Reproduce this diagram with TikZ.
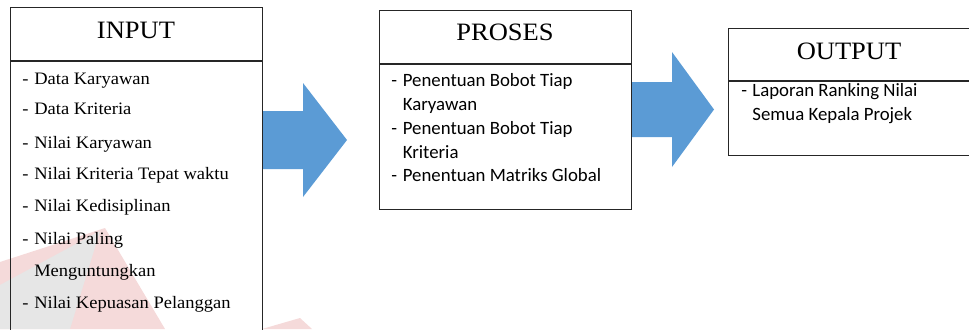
\documentclass[tikz,border=0pt]{standalone}
\usepackage{fontspec}
\setmainfont[FakeStretch=1.06]{Liberation Serif}
\newfontfamily\bodysans{Carlito}
\usetikzlibrary{calc}

\definecolor{arrowblue}{HTML}{5B9BD5}
\definecolor{markpink}{HTML}{F5DADA}
\definecolor{markgrey}{HTML}{E6E6E6}

% hanging-dash list entries
\newcommand\dashitem[2]{\makebox[#1][l]{-}#2}

\tikzset{
  panel/.style={draw=black!85, line width=0.9pt, fill=none, inner sep=0pt, anchor=north west},
  heading/.style={anchor=base, inner sep=0pt, font=\fontsize{18.75pt}{20pt}\selectfont},
  seriftxt/.style={anchor=base west, inner sep=0pt, font=\fontsize{13.1pt}{15pt}\selectfont},
  sanstxt/.style={anchor=base west, inner sep=0pt, font=\bodysans\fontsize{14.1pt}{16pt}\selectfont},
  blockarrow/.style={fill=arrowblue, draw=none}
}

\begin{document}
\begin{tikzpicture}[x=0.75pt, y=-0.75pt]
\useasboundingbox (0,0) rectangle (969,329);

% faint logo in the background
\fill[markpink] (105,228) -- (0,262) -- (0,329) -- (165,329) -- cycle;
\fill[markgrey] (100,231) -- (0,285) -- (0,329) -- (70,329) -- cycle;
\fill[markpink] (262,329) -- (300,318) -- (312,329) -- cycle;

% panels
\node[panel, minimum width=189pt, minimum height=249.75pt] (inbox) at (10,7) {};
\node[panel, minimum width=189pt, minimum height=149.25pt] (procbox) at (379,10) {};
\node[panel, minimum width=181.5pt, minimum height=95.25pt] (outbox) at (728,28) {};

% header separators
\draw[black!85, line width=0.9pt] (inbox.west |- 0,61) -- (inbox.east |- 0,61);
\draw[black!85, line width=0.9pt] (procbox.west |- 0,64) -- (procbox.east |- 0,64);
\draw[black!85, line width=0.9pt] (outbox.west |- 0,81) -- (outbox.east |- 0,81);

% headings
\node[heading] (inhead) at (136,38.5) {INPUT};
\node[heading] (prochead) at (505,40.7) {PROSES};
\node[heading] (outhead) at (849,59.3) {OUTPUT};

% input list
\node[seriftxt] (i1) at (22,84.3) {\dashitem{9pt}{Data Karyawan}};
\node[seriftxt] (i2) at (22,114.3) {\dashitem{9pt}{Data Kriteria}};
\node[seriftxt] (i3) at (22,148.3) {\dashitem{9pt}{Nilai Karyawan}};
\node[seriftxt] (i4) at (22,179.3) {\dashitem{9pt}{Nilai Kriteria Tepat waktu}};
\node[seriftxt] (i5) at (22,211.7) {\dashitem{9pt}{Nilai Kedisiplinan}};
\node[seriftxt] (i6) at (22,244.3) {\dashitem{9pt}{Nilai Paling}};
\node[seriftxt] (i7) at (22,276) {\makebox[9pt][l]{}Menguntungkan};
\node[seriftxt] (i8) at (22,308.3) {\dashitem{9pt}{Nilai Kepuasan Pelanggan}};

% process list
\node[sanstxt] (p1) at (391,86) {\dashitem{8.7pt}{Penentuan Bobot Tiap}};
\node[sanstxt] (p2) at (391,110) {\makebox[8.7pt][l]{}Karyawan};
\node[sanstxt] (p3) at (391,134) {\dashitem{8.7pt}{Penentuan Bobot Tiap}};
\node[sanstxt] (p4) at (391,158) {\makebox[8.7pt][l]{}Kriteria};
\node[sanstxt] (p5) at (391,181.7) {\dashitem{8.7pt}{Penentuan Matriks Global}};

% output list
\node[sanstxt] (o1) at (741,96.7) {\dashitem{8.4pt}{Laporan Ranking Nilai}};
\node[sanstxt] (o2) at (741,120) {\makebox[8.4pt][l]{}Semua Kepala Projek};

% block arrows between panels
\fill[blockarrow] (inbox.east |- 0,111) -- (303,111) -- (303,83) -- (347,140)
  -- (303,197) -- (303,169) -- (inbox.east |- 0,169) -- cycle;
\fill[blockarrow] (procbox.east |- 0,82) -- (672,82) -- (672,52) -- (714,109.5)
  -- (672,167) -- (672,137) -- (procbox.east |- 0,137) -- cycle;
\end{tikzpicture}
\end{document}
